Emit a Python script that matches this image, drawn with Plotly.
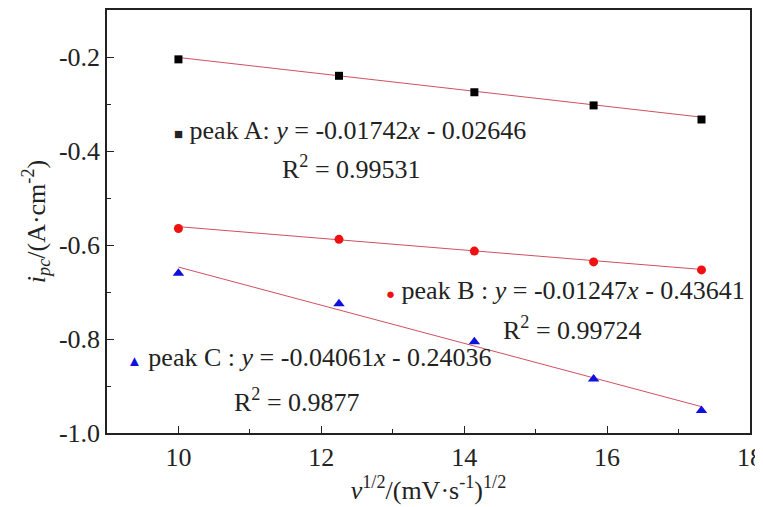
import plotly.graph_objects as go

# ---- data ----
x_vals = [10.0, 12.247, 14.142, 15.811, 17.321]
peak_a = [-0.205, -0.240, -0.275, -0.303, -0.333]
peak_b = [-0.565, -0.588, -0.613, -0.636, -0.653]
peak_c = [-0.660, -0.725, -0.806, -0.885, -0.952]

fit_x = [10.0, 17.321]
fit_a = [-0.201, -0.328]
fit_b = [-0.561, -0.652]
fit_c = [-0.647, -0.944]

x_ticks = [10, 12, 14, 16, 18]
x_ticktext = ["10", "12", "14", "16", "18"]
y_ticks = [-1.0, -0.8, -0.6, -0.4, -0.2]
y_ticktext = ["-1.0", "-0.8", "-0.6", "-0.4", "-0.2"]

label_a = "peak A: <i>y</i> = -0.01742<i>x</i> - 0.02646"
label_b = "peak B : <i>y</i> = -0.01247<i>x</i> - 0.43641"
label_c = "peak C : <i>y</i> = -0.04061<i>x</i> - 0.24036"
r2_a = "R<sup>2</sup> = 0.99531"
r2_b = "R<sup>2</sup> = 0.99724"
r2_c = "R<sup>2</sup> = 0.9877"

FONT = "Liberation Serif"
LINE_COLOR = "#d05060"
FS = 26

fig = go.Figure()

for fy in (fit_a, fit_b, fit_c):
    fig.add_trace(go.Scatter(x=fit_x, y=fy, mode="lines",
                             line=dict(color=LINE_COLOR, width=1),
                             showlegend=False, hoverinfo="skip"))

fig.add_trace(go.Scatter(x=x_vals, y=peak_a, mode="markers",
                         marker=dict(symbol="square", size=8, color="#000000"),
                         showlegend=False))
fig.add_trace(go.Scatter(x=x_vals, y=peak_b, mode="markers",
                         marker=dict(symbol="circle", size=9, color="#ee1111"),
                         showlegend=False))
fig.add_trace(go.Scatter(x=x_vals, y=peak_c, mode="markers",
                         marker=dict(symbol="triangle-up", size=10, color="#1010dd"),
                         showlegend=False))

ann_font = dict(family=FONT, size=FS, color="#222222")
annotations = [
    dict(x=9.91, y=-0.357, text='<span style="font-size:15px">■</span> ' + label_a,
         xanchor="left", yanchor="middle"),
    dict(x=12.42, y=-0.436, text=r2_a, xanchor="center", yanchor="middle"),
    dict(x=12.88, y=-0.696,
         text='<span style="color:#ee1111;font-size:15px">●</span> ' + label_b,
         xanchor="left", yanchor="middle"),
    dict(x=15.51, y=-0.777, text=r2_b, xanchor="center", yanchor="middle"),
    dict(x=9.25, y=-0.840,
         text='<span style="color:#1010dd;font-size:15px">▲</span> ' + label_c,
         xanchor="left", yanchor="middle"),
    dict(x=11.66, y=-0.930, text=r2_c, xanchor="center", yanchor="middle"),
]
for a in annotations:
    fig.add_annotation(xref="x", yref="y", showarrow=False, font=ann_font, **a)

axis_common = dict(
    showline=True, linecolor="#222222", linewidth=1.5, mirror=True,
    ticks="inside", ticklen=7, tickwidth=1.3, tickcolor="#222222",
    showgrid=False, zeroline=False, automargin=False,
    tickfont=dict(family=FONT, size=FS, color="#222222"),
)

fig.update_xaxes(range=[9, 18], tickvals=x_ticks, ticktext=x_ticktext,
                 minor=dict(ticks="inside", ticklen=4, dtick=1, tick0=9,
                            tickcolor="#222222", showgrid=False),
                 title=dict(text="<i>v</i><sup>1/2</sup>/(mV·s<sup>-1</sup>)<sup>1/2</sup>",
                            font=dict(family=FONT, size=FS, color="#222222"),
                            standoff=8),
                 **axis_common)
fig.update_yaxes(range=[-1.0, -0.1], tickvals=y_ticks, ticktext=y_ticktext,
                 minor=dict(ticks="inside", ticklen=4, dtick=0.1, tick0=-1.0,
                            tickcolor="#222222", showgrid=False),
                 title=dict(text="<i>i</i><sub><i>pc</i></sub>/(A·cm<sup>-2</sup>)",
                            font=dict(family=FONT, size=FS, color="#222222"),
                            standoff=6),
                 **axis_common)

fig.update_layout(
    width=755, height=499,
    margin=dict(l=99, r=13, t=2, b=74),
    paper_bgcolor="white", plot_bgcolor="white",
)

fig.write_html("out.html")
